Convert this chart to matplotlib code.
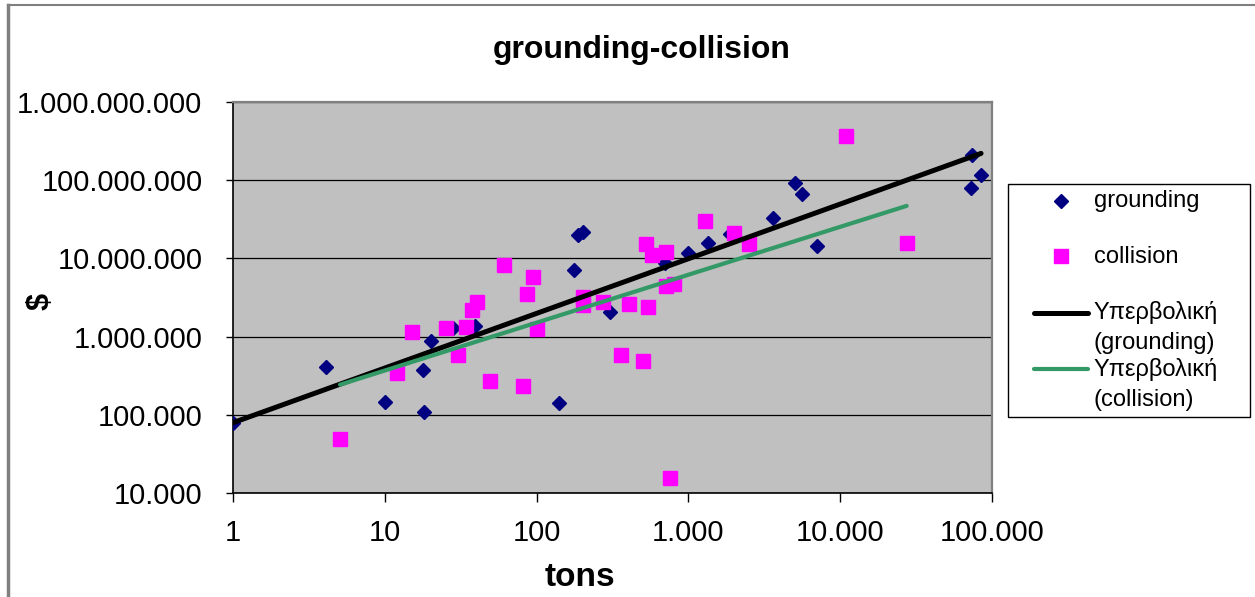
import numpy as np
import matplotlib
matplotlib.use('Agg')
from matplotlib import pyplot as plt
from matplotlib.lines import Line2D
from matplotlib.ticker import FixedLocator, FuncFormatter, NullLocator

plt.rcParams['font.family'] = ['Liberation Sans', 'DejaVu Sans']

# grounding: tons vs $
ground_tons = [1, 4.1, 10, 17.8, 18.1, 20.1, 28, 39, 141, 177, 188, 203, 305,
               700, 1000, 1350, 1880, 3620, 5040, 5580, 7000, 73500, 84700, 72200]
ground_cost = [78600, 404000, 146000, 374000, 108600, 879000, 1290000, 1380000,
               140000, 7110000, 19900000, 21900000, 2080000, 8650000, 11700000,
               15700000, 20500000, 32900000, 91200000, 66100000, 14500000,
               210000000, 117000000, 78700000]

# collision: tons vs $
coll_tons = [5.07, 12.1, 15.2, 25.3, 30.5, 34.3, 37.4, 40.7, 49.3, 61, 81, 86.1,
             95.1, 101, 203, 203, 272, 360, 408, 505, 524, 545, 573, 709, 709,
             757, 804, 1290, 2000, 2520, 10900, 27400]
coll_cost = [48600, 340000, 1135000, 1277000, 582000, 1315000, 2190000, 2790000,
             270000, 8240000, 236000, 3470000, 5840000, 1250000, 3180000, 2510000,
             2750000, 582000, 2610000, 492000, 15100000, 2410000, 11000000,
             12200000, 4440000, 15400, 4710000, 30100000, 20900000, 15100000,
             367000000, 15600000]

x_ticks = [1, 10, 100, 1000, 10000, 100000]
y_ticks = [1e4, 1e5, 1e6, 1e7, 1e8, 1e9]
legend_labels = ['grounding\n', 'collision\n',
                 'Υπερβολική\n(grounding)', 'Υπερβολική\n(collision)']


def power_fit(x, y):
    # excel style power trendline: straight fit in log-log space
    lx, ly = np.log10(x), np.log10(y)
    b, a = np.polyfit(lx, ly, 1)
    xs = np.array([min(x), max(x)])
    return xs, 10 ** a * xs ** b


def dot_fmt(v, pos):
    return '{:,.0f}'.format(v).replace(',', '.')


fig = plt.figure(figsize=(12.55, 5.97), dpi=100)
ax = fig.add_axes([233 / 1255, 104 / 597, 759 / 1255, 391 / 597])
ax.set_facecolor('#C0C0C0')
ax.set_xscale('log')
ax.set_yscale('log')

g_pts, = ax.plot(ground_tons, ground_cost, ls='none', marker='D', ms=7.6,
                 color='#000080', mec='#000080', zorder=3)
c_pts, = ax.plot(coll_tons, coll_cost, ls='none', marker='s', ms=10.5,
                 color='#FF00FF', mec='#FF00FF', zorder=4)
gx, gy = power_fit(ground_tons, ground_cost)
cx, cy = power_fit(coll_tons, coll_cost)
g_fit, = ax.plot(gx, gy, color='black', lw=3.6, solid_capstyle='round', zorder=5)
c_fit, = ax.plot(cx, cy, color='#339966', lw=3.0, solid_capstyle='round', zorder=6)

ax.set_xlim(1, 1e5)
ax.set_ylim(1e4, 1e9)
ax.xaxis.set_major_locator(FixedLocator(x_ticks))
ax.yaxis.set_major_locator(FixedLocator(y_ticks))
ax.xaxis.set_minor_locator(NullLocator())
ax.yaxis.set_minor_locator(NullLocator())
ax.xaxis.set_major_formatter(FuncFormatter(dot_fmt))
ax.yaxis.set_major_formatter(FuncFormatter(dot_fmt))
ax.tick_params(axis='y', direction='out', length=5, width=1, pad=17, labelsize=21)
ax.tick_params(axis='x', direction='out', length=6.5, width=1, pad=12, labelsize=21)
ax.grid(axis='y', color='black', lw=0.9)
ax.set_axisbelow(True)
for s in ['left', 'bottom']:
    ax.spines[s].set_color('black')
    ax.spines[s].set_linewidth(1.2)
for s in ['top', 'right']:
    ax.spines[s].set_color('#808080')
    ax.spines[s].set_linewidth(1.6)

leg = ax.legend([g_pts, c_pts, g_fit, c_fit], legend_labels, loc='upper left',
                bbox_to_anchor=(1008 / 1255, 1 - 184 / 597, 242 / 1255, 0),
                bbox_transform=fig.transFigure, mode='expand', borderaxespad=0,
                borderpad=0.25, handlelength=3.18, handletextpad=0.2,
                labelspacing=0.16, fontsize=17, numpoints=1, fancybox=False,
                edgecolor='black', framealpha=1)
leg.get_frame().set_linewidth(1.0)
for t in leg.get_texts():
    t.set_linespacing(1.47)
# handles sit on the first text line, a bit right of the frame
for h in leg.legend_handles:
    h.set_xdata(np.linspace(14.4, 53.3, 3))
    h.set_ydata(np.asarray(h.get_ydata()) + 11.2)

fig.text(642 / 1255, 1 - 50 / 597, 'grounding-collision', ha='center', va='center',
         fontsize=23, fontweight='bold')
fig.text(580 / 1255, 1 - 577 / 597, 'tons', ha='center', va='center',
         fontsize=24, fontweight='bold')
fig.text(41 / 1255, 1 - 302 / 597, '$', ha='center', va='center', rotation=90,
         fontsize=22, fontweight='bold')

# outer chart border (top and left visible)
fig.add_artist(Line2D([8 / 1255, 1], [1 - 5 / 597, 1 - 5 / 597],
                      transform=fig.transFigure, color='#808080', lw=1.5))
fig.add_artist(Line2D([8 / 1255, 8 / 1255], [0, 1 - 5 / 597],
                      transform=fig.transFigure, color='#808080', lw=2.5))

fig.savefig('out.png', dpi=100)
